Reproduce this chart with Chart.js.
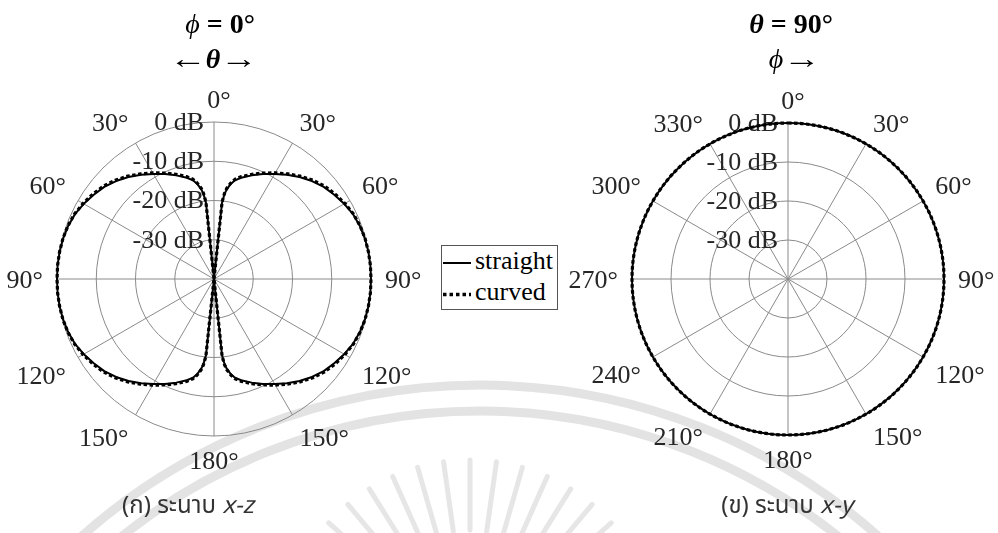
<!DOCTYPE html>
<html><head><meta charset="utf-8">
<script src="https://cdn.jsdelivr.net/npm/chart.js@4"></script>
<style>
html,body{margin:0;padding:0;background:#fff;}
#wrap{position:relative;width:998px;height:533px;overflow:hidden;background:#fff;}
canvas,svg{position:absolute;}
.t{position:absolute;font-family:"Liberation Serif","Times New Roman",serif;color:#000;white-space:nowrap;transform:translateX(-50%);font-size:28px;line-height:32px;}
.ar{display:inline-block;transform:scaleX(1.35);margin:0 4px;}
.cap{position:absolute;font-family:"Noto Sans Thai","Noto Sans",sans-serif;color:#333;white-space:nowrap;transform:translateX(-50%);font-size:24px;line-height:30px;}
#legend{position:absolute;left:441px;top:245px;width:115px;height:63px;border:1px solid #555;background:#fff;font-family:"Liberation Serif","Times New Roman",serif;font-size:26px;line-height:30px;color:#000;}
#legend span{position:absolute;left:33px;}
</style></head><body>
<div id="wrap">
<svg id="wm" width="998" height="533" style="left:0;top:0"></svg>
<canvas id="left" width="428" height="533" style="left:0;top:0"></canvas>
<canvas id="right" width="438" height="533" style="left:560px;top:0"></canvas>

<div class="t" style="left:220px;top:8px;"><i>ϕ</i> <b>= 0°</b></div>
<div class="t" style="left:213px;top:43px;"><span class="ar">←</span><b><i>θ</i></b><span class="ar">→</span></div>
<div class="t" style="left:791px;top:8px;"><b><i>θ</i> = 90°</b></div>
<div class="t" style="left:794px;top:43px;"><i>ϕ</i><span class="ar">→</span></div>

<div id="legend">
  <svg style="left:1px;top:15px" width="29" height="4"><line x1="0" y1="2" x2="28" y2="2" stroke="#000" stroke-width="2"/></svg>
  <span style="top:0px">straight</span>
  <svg style="left:1px;top:46px" width="29" height="5"><line x1="0" y1="2.5" x2="28" y2="2.5" stroke="#000" stroke-width="3.5" stroke-dasharray="3.5 3"/></svg>
  <span style="top:31px">curved</span>
</div>

<div class="cap" style="left:188px;top:491px;">(ก) ระนาบ <i>x-z</i></div>
<div class="cap" style="left:787px;top:491px;">(ข) ระนาบ <i>x-y</i></div>
</div>

<script>
// ---------- data ----------
// left plot: phi = 0 deg, angle theta (deg, clockwise from top), pattern in dB
const L_ANGLES = [0,6,7,8,10,12,15,20,25,30,35,40,45,50,55,60,65,70,75,80,85,90,
  95,100,105,110,115,120,125,130,135,140,145,150,155,160,165,168,170,172,173,174,
  180,
  186,187,188,190,192,195,200,205,210,215,220,225,230,235,240,245,250,255,260,265,270,
  275,280,285,290,295,300,305,310,315,320,325,330,335,340,345,348,350,352,353,354];
const L_STRAIGHT = [-40,-20.5,-18.3,-17.0,-15.4,-14.3,-13.3,-11.9,-10.5,-9.1,-7.6,-6.1,-4.7,-3.5,-2.6,-1.7,-0.9,-0.45,-0.2,-0.05,0,0,
  0,-0.05,-0.2,-0.45,-0.9,-1.7,-2.6,-3.5,-4.7,-6.1,-7.6,-9.1,-10.5,-11.9,-13.3,-14.3,-15.4,-17.0,-18.3,-20.5,
  -40,
  -20.5,-18.3,-17.0,-15.4,-14.3,-13.3,-11.9,-10.5,-9.1,-7.6,-6.1,-4.7,-3.5,-2.6,-1.7,-0.9,-0.45,-0.2,-0.05,0,0,
  0,-0.05,-0.2,-0.45,-0.9,-1.7,-2.6,-3.5,-4.7,-6.1,-7.6,-9.1,-10.5,-11.9,-13.3,-14.3,-15.4,-17.0,-18.3,-20.5];
const L_CURVED = [-40,-20.2,-18.0,-16.7,-15.1,-14.0,-13.0,-11.6,-10.2,-8.8,-7.3,-5.8,-4.4,-3.2,-2.3,-1.5,-0.8,-0.4,-0.15,-0.05,0,0,
  0,-0.05,-0.15,-0.4,-0.8,-1.5,-2.3,-3.2,-4.4,-5.8,-7.3,-8.8,-10.2,-11.6,-13.0,-14.0,-15.1,-16.7,-18.0,-20.2,
  -40,
  -20.2,-18.0,-16.7,-15.1,-14.0,-13.0,-11.6,-10.2,-8.8,-7.3,-5.8,-4.4,-3.2,-2.3,-1.5,-0.8,-0.4,-0.15,-0.05,0,0,
  0,-0.05,-0.15,-0.4,-0.8,-1.5,-2.3,-3.2,-4.4,-5.8,-7.3,-8.8,-10.2,-11.6,-13.0,-14.0,-15.1,-16.7,-18.0,-20.2];

// right plot: theta = 90 deg, angle phi (deg)
const R_ANGLES = [0,15,30,45,60,75,90,105,120,135,150,165,180,195,210,225,240,255,270,285,300,315,330,345];
const R_STRAIGHT = [0,0,0,0,0,0,0,0,0,0,0,0,0,0,0,0,0,0,0,0,0,0,0,0];
const R_CURVED   = [0,0,0,0,0,0,0,0,0,0,0,0,0,0,0,0,0,0,0,0,0,0,0,0];

// tick labels
const GRID_ANGLES = [0,30,60,90,120,150,180,210,240,270,300,330];
const L_ANGLE_LABELS = ['0°','30°','60°','90°','120°','150°','180°','150°','120°','90°','60°','30°'];
const R_ANGLE_LABELS = ['0°','30°','60°','90°','120°','150°','180°','210°','240°','270°','300°','330°'];
const DB_VALUES = [0,-10,-20,-30];
const DB_LABELS = ['0 dB','-10 dB','-20 dB','-30 dB'];
const DB_MIN = -40, DB_MAX = 0;

// ---------- helpers ----------
const DEG_LABELS = Array.from({length:360}, (_, i) => String(i));
function toRadar(angles, values){
  const d = new Array(360).fill(null);
  angles.forEach((a, i) => { d[a] = values[i]; });
  return d;
}

const polarText = {
  id: 'polarText',
  beforeDatasetsDraw(chart, args, o) {
    const s = chart.scales.r, ctx = chart.ctx;
    ctx.save();
    ctx.font = '26px "Liberation Serif", "Times New Roman", serif';
    ctx.fillStyle = '#262626';
    ctx.textAlign = 'right'; ctx.textBaseline = 'middle';
    DB_VALUES.forEach((v, i) => {
      const d = s.getDistanceFromCenterForValue(v);
      ctx.fillText(DB_LABELS[i], s.xCenter - o.tickDx, s.yCenter - d + 1);
    });
    ctx.textBaseline = 'alphabetic';
    const R = s.drawingArea + o.pad;
    GRID_ANGLES.forEach((deg, k) => {
      const p = s.getPointPosition(deg, R);
      let x = p.x, y = p.y;
      if (deg === 0 || deg === 180) ctx.textAlign = 'center';
      else ctx.textAlign = deg < 180 ? 'left' : 'right';
      if (deg === 90 || deg === 270) y += 9;
      else if (deg > 90 && deg < 270) y += 19;
      if (deg === 0) x += o.zeroDx;
      ctx.fillText(o.labels[k], x, y);
    });
    ctx.restore();
  }
};

function makeChart(id, angles, straight, curved, labels, pad, tension) {
  return new Chart(document.getElementById(id), {
    type: 'radar',
    data: {
      labels: DEG_LABELS,
      datasets: [
        { label: 'curved', data: toRadar(angles, curved), borderColor: '#000', borderWidth: 3.2,
          borderDash: [3.5, 2.5], borderCapStyle: 'butt', pointRadius: 0, fill: false, spanGaps: true,
          tension: tension, order: 0 },
        { label: 'straight', data: toRadar(angles, straight), borderColor: '#000', borderWidth: 2,
          borderJoinStyle: 'round', pointRadius: 0, fill: false, spanGaps: true, tension: tension, order: 1 }
      ]
    },
    options: {
      responsive: false, animation: false, events: [],
      layout: { padding: pad },
      elements: { line: { capBezierPoints: false } },
      plugins: { legend: { display: false }, tooltip: { enabled: false },
        polarText: { labels: labels, pad: 14, tickDx: 10, zeroDx: 5 } },
      scales: { r: {
        min: DB_MIN, max: DB_MAX, startAngle: 0,
        ticks: { display: false, stepSize: 10 },
        grid: { circular: true, color: (c) => c.index === 0 ? 'rgba(0,0,0,0)' : '#8a8a8a', lineWidth: 1 },
        angleLines: { display: true, color: '#8a8a8a', lineWidth: (c) => (c.index % 30 === 0 ? 1 : 0) },
        pointLabels: { display: false }
      } }
    },
    plugins: [polarText]
  });
}

makeChart('left', L_ANGLES, L_STRAIGHT, L_CURVED, L_ANGLE_LABELS, {left:57, right:57, top:122, bottom:97}, 0);
makeChart('right', R_ANGLES, R_STRAIGHT, R_CURVED, R_ANGLE_LABELS, {left:72, right:54, top:123, bottom:98}, 0.34);

// faint background watermark (decorative)
(function(){
  const svg = document.getElementById('wm'), NS = 'http://www.w3.org/2000/svg';
  [600, 574].forEach(r => {
    const c = document.createElementNS(NS, 'circle');
    c.setAttribute('cx', 480); c.setAttribute('cy', 985); c.setAttribute('r', r);
    c.setAttribute('fill', 'none'); c.setAttribute('stroke', '#e3e3e3'); c.setAttribute('stroke-width', 9);
    svg.appendChild(c);
  });
  for (let a = -64; a <= 64; a += 8) {
    const t = a * Math.PI / 180, cx = 470, cy = 650;
    const l = document.createElementNS(NS, 'line');
    l.setAttribute('x1', cx + 120 * Math.sin(t)); l.setAttribute('y1', cy - 120 * Math.cos(t));
    l.setAttribute('x2', cx + 190 * Math.sin(t)); l.setAttribute('y2', cy - 190 * Math.cos(t));
    l.setAttribute('stroke', '#e6e6e6'); l.setAttribute('stroke-width', 5); l.setAttribute('stroke-linecap', 'round');
    svg.appendChild(l);
  }
})();
</script>
</body></html>
